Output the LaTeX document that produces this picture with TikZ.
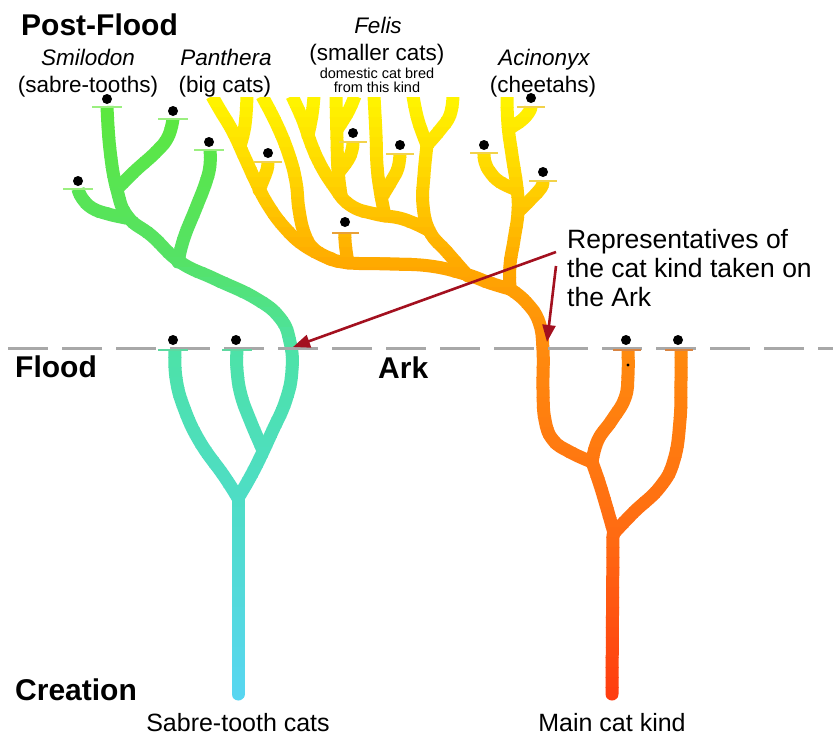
\documentclass[tikz,border=0pt]{standalone}
\usepackage{fontspec}
\setmainfont{Liberation Sans}
\usetikzlibrary{arrows.meta}
\definecolor{L0}{HTML}{5CE83C}
\definecolor{L1}{HTML}{55E266}
\definecolor{L2}{HTML}{4DE2A8}
\definecolor{L3}{HTML}{4EDDC6}
\definecolor{L4}{HTML}{58D6F2}
\definecolor{R0}{HTML}{FFF400}
\definecolor{R1}{HTML}{FFD800}
\definecolor{R2}{HTML}{FFA800}
\definecolor{R3}{HTML}{FF8A0E}
\definecolor{R4}{HTML}{FF6C12}
\definecolor{R5}{HTML}{FF3C10}
\definecolor{arrowred}{HTML}{A3101F}
\definecolor{dashgray}{HTML}{A8A8A8}
\definecolor{tkgreen}{HTML}{9BEF80}
\definecolor{tkteal}{HTML}{5ED8A0}
\definecolor{tkyellow}{HTML}{F2D24A}
\definecolor{tkorange}{HTML}{E8A038}
\definecolor{tkbrown}{HTML}{D88442}
\newcommand\mixc[4]{\pgfmathsetmacro\mixpct{max(0,min(100,(#2-\bandy)/(#2-#1)*100))}\colorlet{bandc}{#3!\mixpct!#4}}
\newcommand\setleft[1]{\pgfmathsetmacro\bandy{#1}%
 \ifdim\bandy pt<260pt \mixc{100}{260}{L0}{L1}\else
 \ifdim\bandy pt<350pt \mixc{260}{350}{L1}{L2}\else
 \ifdim\bandy pt<500pt \mixc{350}{500}{L2}{L3}\else
 \mixc{500}{700}{L3}{L4}\fi\fi\fi}
\newcommand\setright[1]{\pgfmathsetmacro\bandy{#1}%
 \ifdim\bandy pt<170pt \mixc{100}{170}{R0}{R1}\else
 \ifdim\bandy pt<265pt \mixc{170}{265}{R1}{R2}\else
 \ifdim\bandy pt<350pt \mixc{265}{350}{R2}{R3}\else
 \ifdim\bandy pt<530pt \mixc{350}{530}{R3}{R4}\else
 \mixc{530}{700}{R4}{R5}\fi\fi\fi\fi}
\tikzset{
  brs/.style={draw=bandc, line width=13pt, line cap=butt, line join=round},
  tk/.style={line width=2.4pt},
  arr/.style={draw=arrowred, line width=2.6pt, -{Triangle[length=17pt,width=13pt]}},
  lab/.style={anchor=base, inner sep=0pt, font=\fontsize{22.5}{26}\selectfont},
  big/.style={anchor=base west, inner sep=0pt, font=\bfseries\fontsize{30}{36}\selectfont},
}
\newcommand\brnch[2]{\fill[bandc] #1 circle (6.5); \draw[brs] plot[smooth,tension=0.75] coordinates {#1 #2};}
\newcommand\lefttree{%
  \draw[brs, line cap=round] (238,694) -- (238,498);
  \brnch{(238,498)}{(224,476) (200,442) (184,408) (176,378) (175,350)}
  \brnch{(238,498)}{(254,470) (272,432) (286,400) (292,370) (290,342) (280,318) (255,298) (215,279) (180,262) (152,236) (128,217) (117,190) (110,150) (107,106)}
  \brnch{(262,448)}{(250,420) (241,395) (237,370) (237,350)}
  \brnch{(178,262)}{(184,238) (196,208) (206,182) (210,165) (210,150)}
  \brnch{(126,218)}{(108,214) (92,208) (82,198) (78,189)}
  \brnch{(118,188)}{(135,171) (156,152) (168,137) (173,119)}
}
\newcommand\righttree{%
  \draw[brs, line cap=round] (612,694) -- (613,535);
  \brnch{(614,533)}{(634,512) (660,487) (674,460) (680,420) (681,380) (681,350)}
  \brnch{(614,533)}{(606,505) (599,482) (592,462)}
  \brnch{(592,462)}{(598,440) (612,420) (625,398) (628,375) (628,350)}
  \brnch{(592,462)}{(570,452) (553,440) (545,420) (543,390) (543,350) (539,322) (526,302) (510,289)}
  \brnch{(510,289)}{(510,265) (514,240) (518,212) (517,188) (512,155) (508,125) (507,96)}
  \brnch{(518,212)}{(532,198) (541,188) (543,181)}
  \brnch{(517,190)}{(500,182) (490,172) (485,162) (484,153)}
  \brnch{(510,128)}{(522,120) (529,112) (531,107)}
  \brnch{(510,289)}{(490,283) (465,274) (430,266) (390,264) (350,263) (330,259)}
  \brnch{(330,259)}{(305,246) (285,228) (268,205) (256,182) (245,158) (233,132) (220,110) (212,96)}
  \brnch{(240,146)}{(245,125) (247,96)}
  \brnch{(259,190)}{(264,178) (267,170) (268,162)}
  \brnch{(332,259)}{(315,250) (305,235) (299,210) (296,182) (289,155) (277,125) (262,96)}
  \brnch{(308,135)}{(302,118) (292,96)}
  \brnch{(308,135)}{(312,115) (314,96)}
  \brnch{(468,276)}{(447,252) (430,232) (423,205) (424,175) (427,145)}
  \brnch{(427,145)}{(418,120) (413,96)}
  \brnch{(427,145)}{(440,130) (450,115) (453,96)}
  \brnch{(428,230)}{(403,219) (375,214) (350,205) (333,185) (318,160) (308,135)}
  \brnch{(341,195)}{(338,170) (337,140) (336,96)}
  \brnch{(338,128)}{(348,112) (355,96)}
  \brnch{(339,172)}{(348,160) (352,150) (353,142)}
  \brnch{(385,216)}{(380,190) (377,165) (376,135) (374,96)}
  \brnch{(383,195)}{(392,180) (398,168) (400,154)}
  \brnch{(348,263)}{(346,250) (345,240) (345,233)}
}
\begin{document}
\begin{tikzpicture}[x=1pt,y=-1pt]
\fill[white] (0,0) rectangle (833,736);
\useasboundingbox (0,0) rectangle (833,736);
% trees, coloured in horizontal bands
\foreach \i in {0,...,60}{
  \pgfmathsetmacro\bandtop{97+10*\i}
  \begin{scope}
    \clip (0,\bandtop) rectangle (833,\bandtop+10.7);
    \setleft{\bandtop+5}
    \lefttree
    \setright{\bandtop+5}
    \righttree
  \end{scope}
}
% flood line
\draw[dashgray, line width=3pt, dash pattern=on 40pt off 14pt] (8,348) -- (833,348);
% ticks
\foreach \x/\y in {107/107,173/119,209/150,78/189}{\draw[tk,tkgreen] (\x-15,\y) -- (\x+15,\y);}
\foreach \x/\y in {173/350,237/350}{\draw[tk,tkteal] (\x-15,\y) -- (\x+15,\y);}
\foreach \x/\y in {268/162,353/142,400/154,484/153,543/181,531/107}{\draw[tk,tkyellow] (\x-14,\y) -- (\x+14,\y);}
\draw[tk,tkorange] (332,233) -- (359,233);
\foreach \x/\y in {627/350,679/350}{\draw[tk,tkbrown] (\x-14,\y) -- (\x+14,\y);}
% dots
\foreach \x/\y in {107/99,173/111,209/142,78/181,173/340,236/340,268/153,353/133,400/145,345/222,484/145,543/172,531/98,626/340,678/340}{\fill (\x,\y) circle (5);}
\fill (628,365) circle (1.6);
% arrows
\coordinate (a1s) at (556,252);
\coordinate (a1e) at (293,347);
\coordinate (a2s) at (556,266);
\coordinate (a2e) at (547,342);
\draw[arr] (a1s) -- (a1e);
\draw[arr] (a2s) -- (a2e);
% labels
\node[big] (postflood) at (21,35) {Post-Flood};
\node[big] (flood) at (15,377) {Flood};
\node[big] (ark) at (378,378) {Ark};
\node[big] (creation) at (15,700) {Creation};
\node[lab] (smil) at (88,65) {\itshape Smilodon};
\node[lab] (smil2) at (88,92) {(sabre-tooths)};
\node[lab] (panth) at (226,65) {\itshape Panthera};
\node[lab] (panth2) at (225,92) {(big cats)};
\node[lab] (felis) at (378,33) {\itshape Felis};
\node[lab] (felis2) at (377,60) {(smaller cats)};
\node[anchor=base, inner sep=0pt, font=\fontsize{14.5}{17}\selectfont] (dom1) at (377,78) {domestic cat bred};
\node[anchor=base, inner sep=0pt, font=\fontsize{14.5}{17}\selectfont] (dom2) at (377,92) {from this kind};
\node[lab] (acin) at (544,65) {\itshape Acinonyx};
\node[lab] (acin2) at (543,92) {(cheetahs)};
\node[anchor=base west, inner sep=0pt, font=\fontsize{26.5}{29}\selectfont] (rep1) at (567,248) {Representatives of};
\node[anchor=base west, inner sep=0pt, font=\fontsize{26.5}{29}\selectfont] (rep2) at (567,277) {the cat kind taken on};
\node[anchor=base west, inner sep=0pt, font=\fontsize{26.5}{29}\selectfont] (rep3) at (567,306) {the Ark};
\node[anchor=base, inner sep=0pt, font=\fontsize{25}{28}\selectfont] (sabre) at (238,731) {Sabre-tooth cats};
\node[anchor=base, inner sep=0pt, font=\fontsize{25}{28}\selectfont] (maincat) at (612,731) {Main cat kind};
\end{tikzpicture}
\end{document}
